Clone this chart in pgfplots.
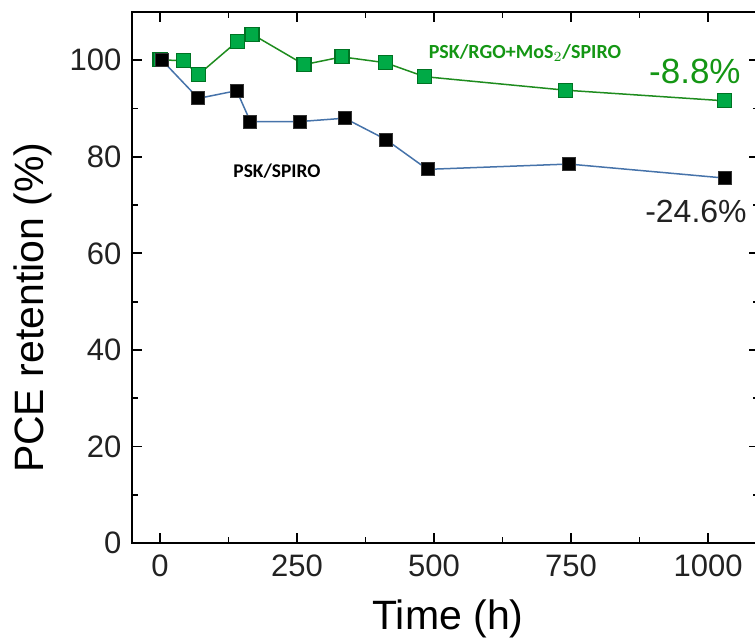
\documentclass[border=0pt]{standalone}
\usepackage{pgfplots}
\pgfplotsset{compat=1.18}
\usepackage{fontspec}
\setmainfont{Liberation Sans}
\newfontfamily\calfont{Carlito}
\definecolor{gtext}{RGB}{20,150,20}
\definecolor{gline}{RGB}{30,140,30}
\definecolor{gfill}{RGB}{0,170,70}
\definecolor{gdraw}{RGB}{0,115,35}
\definecolor{bline}{RGB}{70,115,170}
\definecolor{tick}{RGB}{34,34,34}
\begin{document}
\begin{tikzpicture}
\begin{axis}[
  scale only axis,
  width=313.5pt, height=265.5pt,
  xmin=-51, xmax=1093, ymin=0, ymax=110,
  xtick={0,250,500,750,1000},
  ytick={0,20,40,60,80,100},
  minor x tick num=1, minor y tick num=1,
  major tick length=5pt, minor tick length=3pt,
  tick align=inside,
  axis line style={line width=1pt, black},
  every tick/.style={line width=0.9pt, black},
  /pgf/number format/assume math mode=true,
  /pgf/number format/1000 sep={},
  ticklabel style={font=\fontsize{15.5}{18}\selectfont, text=tick},
  xticklabel style={yshift=-2.3pt},
  yticklabel style={xshift=-1.8pt},
  xlabel={Time (h)},
  ylabel={PCE retention (\%)},
  label style={font=\fontsize{20.5}{24}\selectfont, text=black},
  xlabel style={at={(axis description cs:0.504,0)}, anchor=base, yshift=-43.5pt},
  ylabel style={at={(axis description cs:-0.158,0.443)}, anchor=center},
  clip=false,
]
\addplot[color=gline, line width=0.75pt, mark=square*, mark size=3.5pt,
  mark options={fill=gfill, draw=gdraw, line width=0.6pt}]
  coordinates {(0,100.1) (43,99.9) (70,97.0) (141,103.9) (168,105.4) (263,99.1)
  (332,100.7) (411,99.5) (483,96.6) (740,93.8) (1030,91.6)};
\addplot[color=bline, line width=0.75pt, mark=square*, mark size=3.25pt,
  mark options={fill=black, draw=black!80, line width=0.4pt}]
  coordinates {(3,100.1) (70,92.1) (140,93.7) (165,87.3) (255,87.3) (337,88.0)
  (412,83.6) (488,77.4) (746,78.5) (1030,75.6)};
\node[text=gtext, font=\calfont\bfseries\fontsize{10}{12}\selectfont] at (axis cs:666,101.5) {PSK/RGO+MoS$_2$/SPIRO};
\node[text=black, font=\calfont\bfseries\fontsize{9.7}{12}\selectfont] at (axis cs:213.5,77.1) {PSK/SPIRO};
\node[text=gtext, font=\fontsize{17.5}{20}\selectfont] at (axis cs:976,97.6) {-8.8\%};
\node[text=tick, font=\fontsize{16}{19}\selectfont] at (axis cs:978,68.6) {-24.6\%};
\end{axis}
\pgfresetboundingbox
\path (-66pt,-49pt) rectangle (311.5pt,271.5pt);
\end{tikzpicture}
\end{document}
